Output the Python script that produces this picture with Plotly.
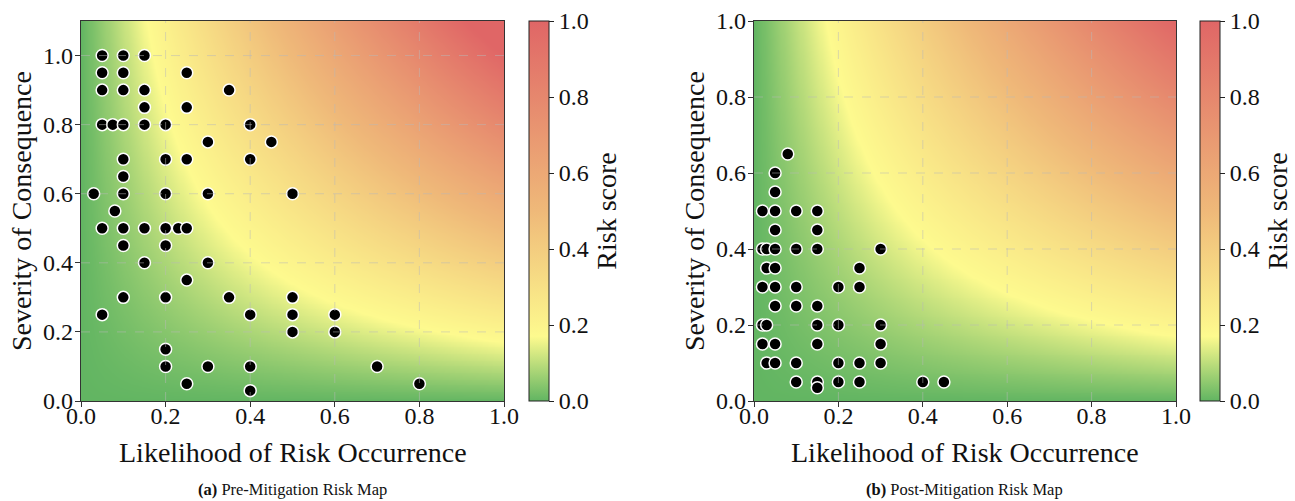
import numpy as np
import plotly.graph_objects as go

# ---- Risk register positions (likelihood, severity) ----
pre_likelihood = [0.05, 0.1, 0.15,
                  0.05, 0.1, 0.25,
                  0.05, 0.1, 0.15, 0.35,
                  0.15, 0.25,
                  0.05, 0.075, 0.1, 0.15, 0.2, 0.4,
                  0.3, 0.45,
                  0.1, 0.2, 0.25, 0.4,
                  0.1,
                  0.03, 0.1, 0.2, 0.3, 0.5,
                  0.08,
                  0.05, 0.1, 0.15, 0.2, 0.23, 0.25,
                  0.1, 0.2,
                  0.15, 0.3,
                  0.25,
                  0.1, 0.2, 0.35, 0.5,
                  0.05, 0.4, 0.5, 0.6,
                  0.5, 0.6,
                  0.2,
                  0.2, 0.3, 0.4, 0.7,
                  0.25, 0.8,
                  0.4]
pre_severity = [1.0, 1.0, 1.0,
                0.95, 0.95, 0.95,
                0.9, 0.9, 0.9, 0.9,
                0.85, 0.85,
                0.8, 0.8, 0.8, 0.8, 0.8, 0.8,
                0.75, 0.75,
                0.7, 0.7, 0.7, 0.7,
                0.65,
                0.6, 0.6, 0.6, 0.6, 0.6,
                0.55,
                0.5, 0.5, 0.5, 0.5, 0.5, 0.5,
                0.45, 0.45,
                0.4, 0.4,
                0.35,
                0.3, 0.3, 0.3, 0.3,
                0.25, 0.25, 0.25, 0.25,
                0.2, 0.2,
                0.15,
                0.1, 0.1, 0.1, 0.1,
                0.05, 0.05,
                0.03]

post_likelihood = [0.08, 0.05, 0.05,
                   0.02, 0.05, 0.1, 0.15,
                   0.05, 0.15,
                   0.02, 0.03, 0.05, 0.1, 0.15, 0.3,
                   0.03, 0.05, 0.25,
                   0.02, 0.05, 0.1, 0.2, 0.25,
                   0.05, 0.1, 0.15,
                   0.02, 0.03, 0.15, 0.2, 0.3,
                   0.02, 0.05, 0.15, 0.3,
                   0.03, 0.05, 0.1, 0.2, 0.25, 0.3,
                   0.1, 0.15, 0.2, 0.25, 0.4, 0.45,
                   0.15]
post_severity = [0.65, 0.6, 0.55,
                 0.5, 0.5, 0.5, 0.5,
                 0.45, 0.45,
                 0.4, 0.4, 0.4, 0.4, 0.4, 0.4,
                 0.35, 0.35, 0.35,
                 0.3, 0.3, 0.3, 0.3, 0.3,
                 0.25, 0.25, 0.25,
                 0.2, 0.2, 0.2, 0.2, 0.2,
                 0.15, 0.15, 0.15, 0.15,
                 0.1, 0.1, 0.1, 0.1, 0.1, 0.1,
                 0.05, 0.05, 0.05, 0.05, 0.05, 0.05,
                 0.035]

tick_vals = [0.0, 0.2, 0.4, 0.6, 0.8, 1.0]
tick_text = ["0.0", "0.2", "0.4", "0.6", "0.8", "1.0"]

# green -> yellow -> orange -> red risk palette
risk_scale = [[0.0, "#62b562"], [0.17, "#fdfa8e"], [0.5, "#efb979"], [1.0, "#e06666"]]

FONT = "Liberation Serif, Times New Roman, serif"
W, H = 1295, 501
ML, MR, MT, MB = 0, 119, 21, 100
PW, PH = W - ML - MR, H - MT - MB


def px_x(p):
    """pixel column -> plot-area fraction"""
    return (p - ML) / PW


def px_y(p):
    """pixel row -> plot-area fraction"""
    return (H - MB - p) / PH


y_dom = [0.0, 1.0]
left_dom = [px_x(81), px_x(504)]
right_dom = [px_x(754), px_x(1176)]

fig = go.Figure()


def risk_field(ymax):
    gx = np.linspace(0, 1, 201)
    gy = np.linspace(0, ymax, int(round(ymax * 200)) + 1)
    z = np.clip(np.outer(gy, gx), 0, 1)
    return gx, gy, z


panels = [
    dict(xa="x", ya="y", ymax=1.1, cbx=px_x(529), lx=pre_likelihood, ly=pre_severity),
    dict(xa="x2", ya="y2", ymax=1.0, cbx=px_x(1200), lx=post_likelihood, ly=post_severity),
]

for p in panels:
    gx, gy, z = risk_field(p["ymax"])
    fig.add_trace(go.Heatmap(
        x=gx, y=gy, z=z, zmin=0, zmax=1, zsmooth="best",
        colorscale=risk_scale, xaxis=p["xa"], yaxis=p["ya"],
        hoverinfo="skip",
        colorbar=dict(
            x=p["cbx"], xanchor="left", xpad=0, ypad=0,
            y=0, yanchor="bottom", len=1, lenmode="fraction",
            thickness=20, thicknessmode="pixels",
            outlinewidth=1, outlinecolor="#222",
            ticks="outside", ticklen=5, tickcolor="#222",
            tickvals=tick_vals, ticktext=tick_text,
            tickfont=dict(family=FONT, size=24, color="#111"),
            title=dict(text="Risk score", side="right",
                       font=dict(family=FONT, size=28, color="#111")),
        ),
    ))
    fig.add_trace(go.Scatter(
        x=p["lx"], y=p["ly"], mode="markers", xaxis=p["xa"], yaxis=p["ya"],
        marker=dict(size=12, color="black", line=dict(color="white", width=1.5)),
        hoverinfo="skip", showlegend=False,
    ))

axis_common = dict(
    showgrid=False, zeroline=False, showline=True, mirror=True, automargin=False,
    linecolor="#333", linewidth=1.3, ticks="outside", ticklen=5, tickcolor="#333",
    tickvals=tick_vals, ticktext=tick_text,
    tickfont=dict(family=FONT, size=24, color="#111"), layer="above traces",
)

fig.update_layout(
    width=W, height=H,
    margin=dict(l=ML, r=MR, t=MT, b=MB),
    paper_bgcolor="white", plot_bgcolor="white",
    showlegend=False,
    xaxis=dict(domain=left_dom, range=[0, 1], anchor="y", ticklabelstandoff=-12, **axis_common),
    yaxis=dict(domain=y_dom, range=[0, 1.1], anchor="x", ticklabelstandoff=-3, **axis_common),
    xaxis2=dict(domain=right_dom, range=[0, 1], anchor="y2", ticklabelstandoff=-12, **axis_common),
    yaxis2=dict(domain=y_dom, range=[0, 1.0], anchor="x2", ticklabelstandoff=-3, **axis_common),
)

# dashed grid drawn over the risk field
grid_style = dict(color="rgba(185,185,185,0.5)", width=1, dash="dash")
for xa, ya, ymax in [("x", "y", 1.1), ("x2", "y2", 1.0)]:
    for v in tick_vals[1:-1]:
        fig.add_shape(type="line", xref=xa, yref=ya + " domain", x0=v, x1=v, y0=0, y1=1,
                      line=grid_style, layer="above")
    for v in tick_vals[1:]:
        if v < ymax:
            fig.add_shape(type="line", xref=xa + " domain", yref=ya, x0=0, x1=1, y0=v, y1=v,
                          line=grid_style, layer="above")

title_font = dict(family=FONT, size=28, color="#111")
annotations = []
for dom, ytx in [(left_dom, px_x(21)), (right_dom, px_x(694))]:
    cx = (dom[0] + dom[1]) / 2
    annotations.append(dict(text="Likelihood of Risk Occurrence", x=cx, y=px_y(452),
                            xref="paper", yref="paper", showarrow=False,
                            xanchor="center", yanchor="middle", font=title_font))
    annotations.append(dict(text="Severity of Consequence", x=ytx, y=0.5,
                            xref="paper", yref="paper", showarrow=False, textangle=-90,
                            xanchor="center", yanchor="middle", font=title_font))

cap_font = dict(family=FONT, size=16.5, color="#111")
annotations.append(dict(text="<b>(a)</b> Pre-Mitigation Risk Map", x=(left_dom[0] + left_dom[1]) / 2,
                        y=px_y(489), xref="paper", yref="paper", showarrow=False,
                        xanchor="center", yanchor="middle", font=cap_font))
annotations.append(dict(text="<b>(b)</b> Post-Mitigation Risk Map", x=(right_dom[0] + right_dom[1]) / 2,
                        y=px_y(489), xref="paper", yref="paper", showarrow=False,
                        xanchor="center", yanchor="middle", font=cap_font))
fig.update_layout(annotations=annotations)

fig.write_html("out.html")
